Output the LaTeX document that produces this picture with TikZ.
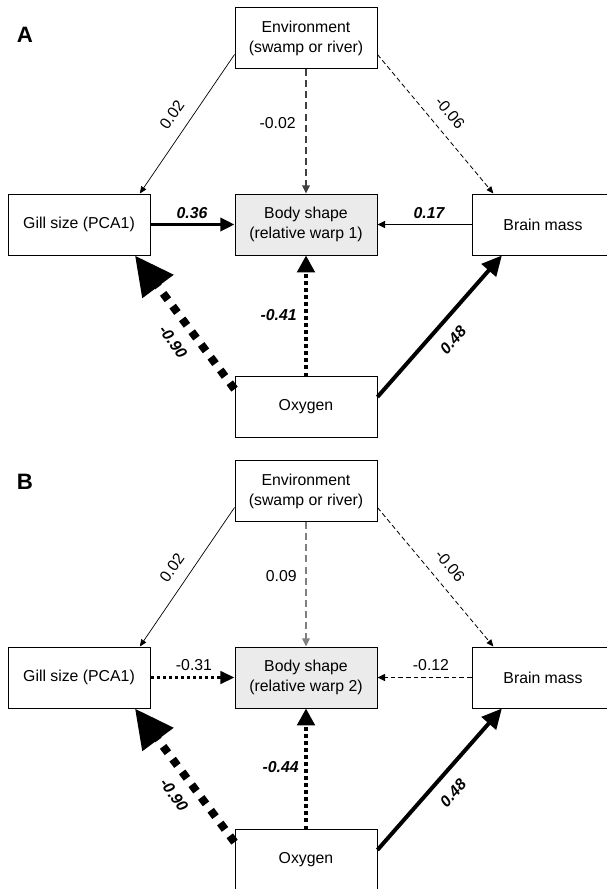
\documentclass[tikz,border=0pt]{standalone}
\usepackage{fontspec}
\setmainfont{Liberation Sans}
\usepackage{tikz}
\usetikzlibrary{arrows.meta,positioning}

\definecolor{bodyfill}{HTML}{EBEBEB}

\tikzset{
  box/.style={draw, line width=0.8pt, minimum width=121.2pt, minimum height=52.1pt,
    inner sep=0pt, align=center, font=\fontsize{13.5}{17}\selectfont},
  bodybox/.style={box, fill=bodyfill},
  num/.style={font=\fontsize{13.5}{16}\selectfont, inner sep=1pt},
  bnum/.style={num, font=\fontsize{13.5}{16}\selectfont\bfseries\itshape},
  panel/.style={font=\fontsize{19}{22}\selectfont\bfseries},
  thinarr/.style={line width=0.6pt, -{Triangle[length=6pt,width=5pt]}},
  thindash/.style={thinarr, line width=0.7pt, dash pattern=on 4pt off 2.5pt},
  middash/.style={line width=1.3pt, dash pattern=on 6pt off 3.5pt, -{Triangle[length=7pt,width=6.5pt]}},
  fatarr/.style={line width=3.4pt, -{Triangle[length=12pt,width=11pt]}},
  fatdot/.style={line width=3pt, dash pattern=on 3pt off 3pt, -{Triangle[length=14.5pt,width=15pt]}},
  hugedot/.style={line width=6.8pt, dash pattern=on 6.8pt off 6.8pt, -{Triangle[length=33pt,width=31.5pt]}}
}

\begin{document}
\begin{tikzpicture}[x=0.03cm,y=-0.03cm]
\useasboundingbox (0,0) rectangle (606,889);

% ---- panel A
\node[panel] (labA) at (25,35) {A};
\node[box] (envA) at (306,38) {Environment\\(swamp or river)};
\node[box] (gillA) at (79,224.5) {Gill size (PCA1)};
\node[bodybox] (bodyA) at (306,224.5) {Body shape\\(relative warp 1)};
\node[box] (brainA) at (543,224.5) {Brain mass};
\node[box] (oxyA) at (306,407) {Oxygen};

\draw[thinarr] (envA.193) -- (gillA.27);
\draw[middash, black!75] (envA.south) -- (bodyA.north);
\draw[thindash] (envA.-13) -- (brainA.148);
\draw[fatarr] (gillA.east) -- (bodyA.west);
\draw[line width=1.3pt, -{Triangle[length=6.5pt,width=6pt]}] (brainA.west) -- (bodyA.east);
\draw[fatdot] (oxyA.north) -- (bodyA.south);
\draw[hugedot] (oxyA.166) -- (gillA.-29);
\draw[line width=3.4pt, -{Triangle[length=17pt,width=16pt]}] (oxyA.8) -- (brainA.217);

\node[num, rotate=55] (eg1) at (172,115) {0.02};
\node[num, anchor=east] (eb1) at (297,123) {-0.02};
\node[num, rotate=-50] (ebr1) at (450,113) {-0.06};
\node[bnum] (gb1) at (192,213) {0.36};
\node[bnum] (bb1) at (429,213) {0.17};
\node[bnum, anchor=east] (ob1) at (298,315) {-0.41};
\node[bnum, rotate=-54] (og1) at (173,342) {-0.90};
\node[bnum, rotate=48] (obr1) at (453,340) {0.48};

% ---- panel B
\begin{scope}[shift={(0,453)}]
\node[panel] (labB) at (25,29) {B};
\node[box] (envB) at (306,38) {Environment\\(swamp or river)};
\node[box] (gillB) at (79,224.5) {Gill size (PCA1)};
\node[bodybox] (bodyB) at (306,224.5) {Body shape\\(relative warp 2)};
\node[box] (brainB) at (543,224.5) {Brain mass};
\node[box] (oxyB) at (306,407) {Oxygen};

\draw[thinarr] (envB.193) -- (gillB.27);
\draw[middash, black!50] (envB.south) -- (bodyB.north);
\draw[thindash] (envB.-13) -- (brainB.148);
\draw[line width=2.6pt, dash pattern=on 2.6pt off 2.6pt, -{Triangle[length=12pt,width=10.5pt]}] (gillB.east) -- (bodyB.west);
\draw[line width=0.9pt, dash pattern=on 4pt off 2.5pt, -{Triangle[length=6.5pt,width=6pt]}] (brainB.west) -- (bodyB.east);
\draw[fatdot] (oxyB.north) -- (bodyB.south);
\draw[hugedot] (oxyB.166) -- (gillB.-29);
\draw[line width=3.4pt, -{Triangle[length=17pt,width=16pt]}] (oxyB.8) -- (brainB.217);

\node[num, rotate=55] (eg2) at (172,115) {0.02};
\node[num, anchor=east] (eb2) at (298,123) {0.09};
\node[num, rotate=-50] (ebr2) at (450,113) {-0.06};
\node[num] (gb2) at (194,212) {-0.31};
\node[num] (bb2) at (431,212) {-0.12};
\node[bnum, anchor=east] (ob2) at (300,314) {-0.44};
\node[bnum, rotate=-54] (og2) at (174,342) {-0.90};
\node[bnum, rotate=48] (obr2) at (453,340) {0.48};
\end{scope}

\end{tikzpicture}
\end{document}
